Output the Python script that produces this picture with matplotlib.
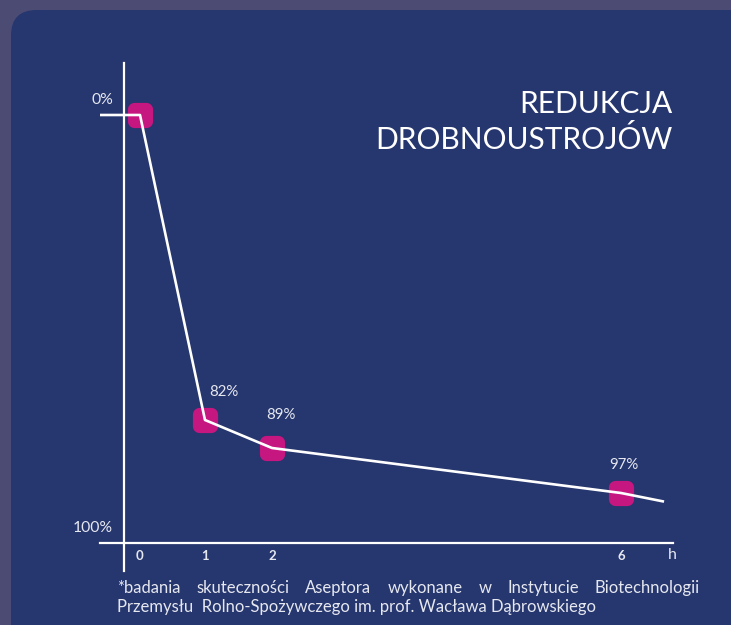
import numpy as np
import matplotlib
matplotlib.use("Agg")
import matplotlib.pyplot as plt
from matplotlib.markers import MarkerStyle
from matplotlib.patches import FancyBboxPatch

# measured points
hours = [0, 1, 2, 6]
reduction = [0, 82, 89, 97]
point_labels = ["", "82%", "89%", "97%"]
# the drawn curve runs a little past the first and last points
line_hours = [-0.62, 0, 1, 2, 6, 6.48]
line_reduction = [0, 0, 82, 89, 97, 97.5]
xtick_labels = ["0", "1", "2", "6"]
title = "REDUKCJA\nDROBNOUSTROJÓW"
note_line1 = ["*badania", "skuteczności", "Aseptora", "wykonane", "w",
              "Instytucie", "Biotechnologii"]
note_line2 = "Przemysłu  Rolno-Spożywczego im. prof. Wacława Dąbrowskiego"

W, H = 731, 625
PANEL = "#26366e"
OUTSIDE = "#4b4b74"
MAGENTA = "#c5177f"
TEXT = "#e6e8f0"

plt.rcParams["font.family"] = ["Lato", "DejaVu Sans"]

# the original is not drawn to scale: piecewise axes
x_anchor_h = [-2, 0, 1, 2, 6, 8]
x_anchor_p = [10, 140, 205, 272, 621, 795]
y_anchor_v = [-30, 0, 82, 89, 97, 100, 120]
y_anchor_p = [3, 115, 420, 448, 493, 543, 878]


def xf(v):
    return np.interp(v, x_anchor_h, x_anchor_p)


def xi(v):
    return np.interp(v, x_anchor_p, x_anchor_h)


def yf(v):
    return np.interp(v, y_anchor_v, y_anchor_p)


def yi(v):
    return np.interp(v, y_anchor_p, y_anchor_v)


fig = plt.figure(figsize=(W / 100, H / 100), dpi=100)
fig.patch.set_facecolor(OUTSIDE)
panel = FancyBboxPatch((11 / W, -0.2), 1.2, 1.2 - 10 / H,
                       boxstyle="round,pad=0,rounding_size=0.035",
                       transform=fig.transFigure, facecolor=PANEL,
                       edgecolor="none", mutation_aspect=W / H, zorder=-1)
fig.patches.append(panel)

left, right, top, bottom = 100, 673, 63, 571
ax = fig.add_axes([left / W, 1 - bottom / H, (right - left) / W, (bottom - top) / H])
ax.set_facecolor("none")
ax.set_xscale("function", functions=(xf, xi))
ax.set_yscale("function", functions=(yf, yi))
ax.set_xlim(xi(left), xi(right))
ax.set_ylim(yi(bottom), yi(top))

for side in ("top", "right"):
    ax.spines[side].set_visible(False)
ax.spines["left"].set_position(("data", xi(124)))
ax.spines["bottom"].set_position(("data", 100))
for side in ("left", "bottom"):
    ax.spines[side].set_color("white")
    ax.spines[side].set_linewidth(1.6)

ax.plot(hours, reduction, linestyle="none",
        marker=MarkerStyle("s", joinstyle="round"), markersize=8,
        markeredgewidth=9.5, color=MAGENTA, markeredgecolor=MAGENTA, zorder=2)
ax.plot(line_hours, line_reduction, color="white", linewidth=1.9, zorder=3)

label_offsets = [(0, 0), (19, 28), (9, 33), (3, 28)]
for h, r, lab, off in zip(hours, reduction, point_labels, label_offsets):
    if lab:
        ax.annotate(lab, (h, r), xytext=(off[0], off[1]), textcoords="offset pixels",
                    ha="center", va="center", color=TEXT, fontsize=10.8)

ax.set_xticks(hours)
ax.set_xticklabels(xtick_labels)
ax.set_yticks([])
ax.tick_params(axis="x", length=0, pad=5, labelsize=9.5, labelcolor=TEXT)
for t in ax.get_xticklabels():
    t.set_fontweight("bold")
ax.text(xi(672), yi(555), "h", ha="center", va="center", color=TEXT, fontsize=11.5)

for txt, ypx in (("0%", 100), ("100%", 528)):
    ax.text(xi(113), yi(ypx), txt, ha="right", va="center", color=TEXT, fontsize=11.3)

fig.text(672 / W, 1 - 122 / H, title, ha="right", va="center", color="white",
         fontsize=21.5, linespacing=1.3)

# footnote, first line justified
renderer = fig.canvas.get_renderer()
note_size = 12
words = [fig.text(0, 0, w, fontsize=note_size, color=TEXT, va="center") for w in note_line1]
widths = [w.get_window_extent(renderer).width for w in words]
gap = (700 - 117 - sum(widths)) / (len(words) - 1)
xpos = 117
for w, wd in zip(words, widths):
    w.set_position((xpos / W, 1 - 588 / H))
    xpos += wd + gap
fig.text(117 / W, 1 - 607 / H, note_line2, fontsize=note_size, color=TEXT, va="center")

fig.savefig("out.png", dpi=100, facecolor=fig.get_facecolor())
